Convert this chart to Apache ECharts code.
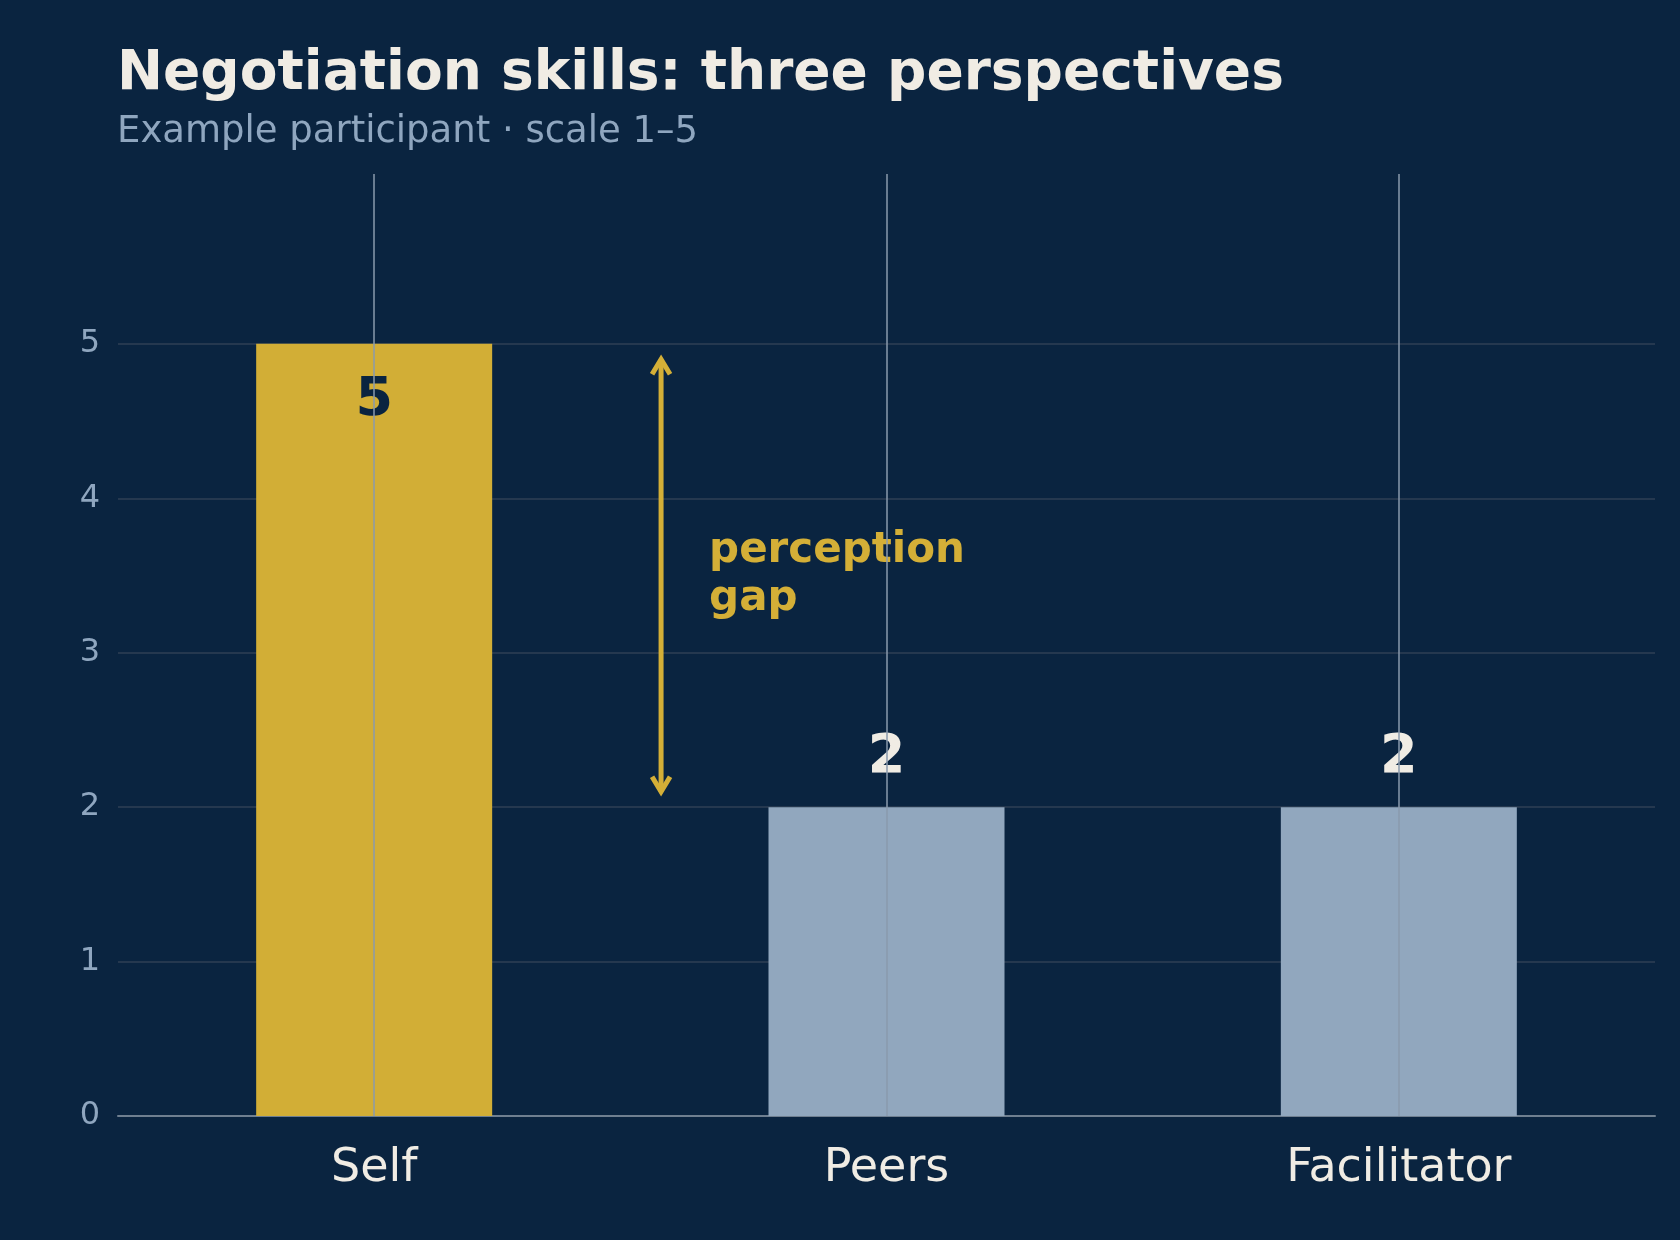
<!DOCTYPE html>
<html><head><meta charset="utf-8">
<script src="https://cdn.jsdelivr.net/npm/echarts@6/dist/echarts.min.js"></script>
<style>html,body{margin:0;background:#0a2440}#c{width:1680px;height:1240px}</style>
</head><body><div id="c"></div>
<script>
const categories = ['Self','Peers','Facilitator'];
const scores = [5,2,2];
const yTicks = [0,1,2,3,4,5];
const gapFrom = 4.9, gapTo = 2.1;
const F = 'DejaVu Sans';
const G = '#25384f';
const chart = echarts.init(document.getElementById('c'));
chart.setOption({
  backgroundColor:'#0a2440',
  animation:false,
  title:{text:'Negotiation skills: three perspectives',subtext:'Example participant · scale 1–5',left:112,top:42,
    textStyle:{color:'#f0ece4',fontFamily:F,fontWeight:'bold',fontSize:55},
    subtextStyle:{color:'#8fa6bf',fontFamily:F,fontSize:37},itemGap:12},
  grid:{left:118,right:25,top:174,bottom:124},
  xAxis:{type:'category',data:categories,axisTick:{show:false},
    axisLine:{lineStyle:{color:'#6f7f90',width:2}},
    axisLabel:{color:'#f0ece4',fontFamily:F,fontSize:46,margin:30}},
  yAxis:{type:'value',min:0,max:6.1,interval:1,
    axisLabel:{color:'#8fa6bf',fontFamily:F,fontSize:32,margin:18,formatter:v=>yTicks.includes(v)?String(v):''},
    splitLine:{lineStyle:{color:[G,G,G,G,G,G,'transparent','transparent'],width:2}}},
  series:[
    {type:'line',z:1,data:[],markLine:{symbol:'none',silent:true,label:{show:false},
      lineStyle:{color:'#8a9aac',width:1.5,type:'solid'},
      data:categories.map(c=>({xAxis:c}))}},
    {type:'bar',z:3,barWidth:236,
     data:scores.map((v,i)=>({value:v,itemStyle:{color:i===0?'#d2ae36':'#91a7be'},
       label:i===0?{position:'insideTop',color:'#0a2440',distance:30}:{position:'top',color:'#f0ece4',distance:22}})),
     label:{show:true,fontFamily:F,fontWeight:'bold',fontSize:54}}
  ]
});
const p0 = chart.convertToPixel({gridIndex:0},[0,gapFrom]);
const p1 = chart.convertToPixel({gridIndex:0},[1,gapTo]);
const ax = p0[0] + (p1[0]-p0[0])*0.56;
const yTop = p0[1], yBot = chart.convertToPixel({gridIndex:0},[0,gapTo])[1];
const gold='#d4af37';
chart.setOption({graphic:[
  {type:'line',shape:{x1:ax,y1:yTop,x2:ax,y2:yBot},style:{stroke:gold,lineWidth:5}},
  {type:'polyline',shape:{points:[[ax-9,yTop+15],[ax,yTop],[ax+9,yTop+15]]},style:{stroke:gold,lineWidth:5,fill:null}},
  {type:'polyline',shape:{points:[[ax-9,yBot-15],[ax,yBot],[ax+9,yBot-15]]},style:{stroke:gold,lineWidth:5,fill:null}},
  {type:'text',x:ax+48,y:chart.convertToPixel({gridIndex:0},[0,3.5])[1],
   style:{text:'perception\ngap',fill:gold,font:'bold 42px "DejaVu Sans"',lineHeight:48,verticalAlign:'middle'}}
]});
</script></body></html>
